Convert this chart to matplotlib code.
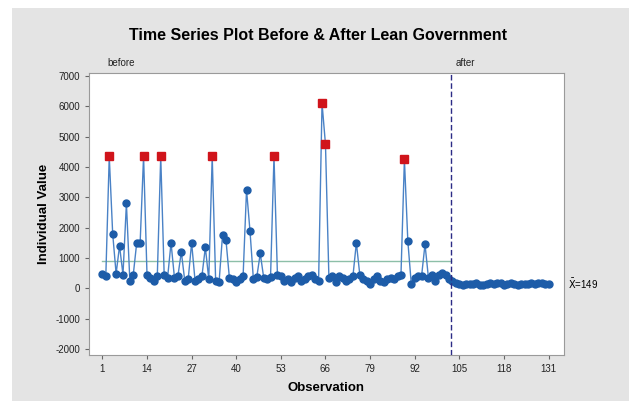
import numpy as np
import matplotlib
matplotlib.use("Agg")
import matplotlib.pyplot as plt
from matplotlib.patches import Rectangle

plt.rcParams['font.family'] = ['Liberation Sans', 'DejaVu Sans']
plt.rcParams['axes.unicode_minus'] = False

# observations before lean government (1..102)
before = [480, 400, 4350, 1800, 480, 1400, 450, 2800, 250, 450,
          1500, 1500, 4350, 450, 350, 250, 400, 4350, 450, 350,
          1500, 350, 400, 1200, 250, 300, 1500, 250, 300, 400,
          1350, 300, 4350, 250, 200, 1750, 1600, 350, 300, 220,
          300, 400, 3250, 1900, 300, 380, 1150, 350, 300, 380,
          4350, 450, 400, 250, 300, 200, 350, 400, 250, 300,
          400, 450, 300, 250, 6100, 4750, 350, 400, 200, 400,
          350, 250, 300, 400, 1500, 450, 300, 250, 150, 300,
          400, 250, 200, 300, 350, 300, 400, 450, 4250, 1550,
          150, 350, 400, 400, 1450, 350, 450, 250, 450, 500,
          450, 300]
# observations after (103..131)
after = [250, 180, 150, 120, 140, 130, 130, 160, 120, 110,
         150, 170, 140, 180, 160, 120, 130, 170, 150, 110,
         130, 150, 140, 160, 130, 180, 170, 140, 150]
xticks = [1, 14, 27, 40, 53, 66, 79, 92, 105, 118, 131]
yticks = [-2000, -1000, 0, 1000, 2000, 3000, 4000, 5000, 6000, 7000]
limit = 4000  # points above are flagged in red

vals = np.array(before + after, dtype=float)
obs = np.arange(1, len(vals) + 1)
nb = len(before)
split = nb + 0.5

fig = plt.figure(figsize=(6.29, 4.01), dpi=100)
fig.patches.append(Rectangle((12 / 629, 0), 1, 1 - 8 / 401, transform=fig.transFigure,
                             facecolor='#e4e4e4', edgecolor='none', zorder=-10))
ax = fig.add_axes([89 / 629, 1 - 355 / 401, 475 / 629, 282 / 401])
ax.set_facecolor('white')

mean_b = np.mean(before)
mean_a = np.mean(after)
ax.plot([1, split], [mean_b, mean_b], color='#8dbfa8', lw=1, zorder=1)
ax.plot([split, len(vals)], [mean_a, mean_a], color='#8dbfa8', lw=1, zorder=1)

ax.plot(obs, vals, color='#4a82c6', lw=1, zorder=2)
ax.plot(obs, vals, 'o', color='#1d5ca8', ms=5, zorder=3)
flag = vals > limit
ax.plot(obs[flag], vals[flag], 's', color='#d0141b', ms=6, zorder=4)

ax.axvline(split, color='#2c2c86', lw=1, ls=(0, (4, 2)), zorder=5)

ax.set_xlim(-2.9, 135.5)
ax.set_ylim(-2200, 7100)
ax.set_xticks(xticks)
ax.set_yticks(yticks)
ax.tick_params(labelsize=7, length=3, color='#666666', labelcolor='#222222')
for s in ax.spines.values():
    s.set_color('#9a9a9a')
    s.set_linewidth(0.8)

ax.set_xlabel('Observation', fontsize=9.5, fontweight='bold', labelpad=6)
ax.set_ylabel('Individual Value', fontsize=9.5, fontweight='bold', labelpad=4)
fig.suptitle('Time Series Plot Before & After Lean Government', x=0.506,
             y=1 - 35 / 401, va='center', fontsize=11.5, fontweight='bold')

fig.text(107 / 629, 1 - 63 / 401, 'before', fontsize=7, va='center', color='#222222')
fig.text(456 / 629, 1 - 63 / 401, 'after', fontsize=7, va='center', color='#222222')
ax.text(1.008, mean_a, r'$\bar{\mathrm{X}}$=%d' % round(mean_a), transform=ax.get_yaxis_transform(),
        fontsize=7, va='center', ha='left')

fig.savefig('out.png', dpi=100)
